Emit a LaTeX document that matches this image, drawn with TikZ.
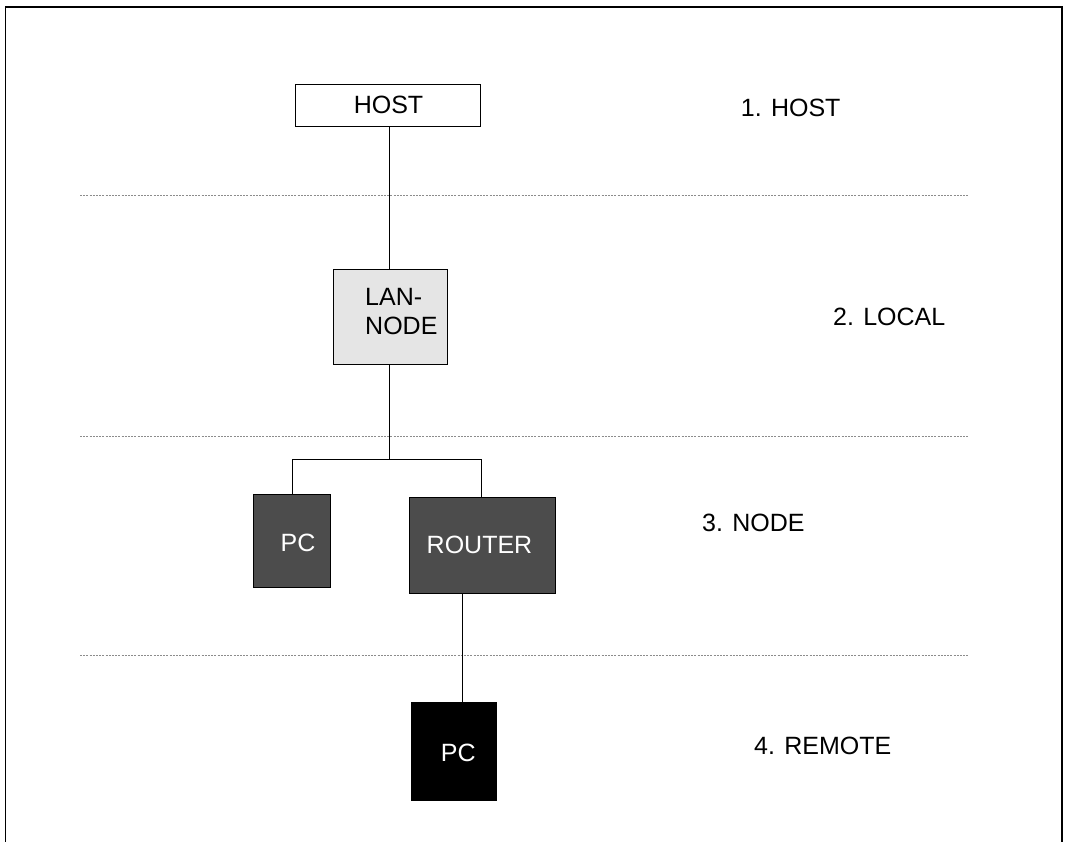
\documentclass[tikz,border=0pt]{standalone}
\usepackage{fontspec}
\setmainfont{Liberation Sans}
\begin{document}
\begin{tikzpicture}[x=1pt,y=-1pt]
\tikzstyle{every node}+=[inner sep=0pt, font=\fontsize{25}{28.7}\selectfont]
\tikzstyle{unit}=[draw=black, line width=1pt]
\tikzstyle{link}=[black, line width=1pt]
\tikzstyle{level}=[black!45, line width=0.7pt, dash pattern=on 2pt off 1.2pt]
\useasboundingbox (0,0) rectangle (1066,842);
\draw [black, line width=1.4pt] (5.5,842) -- (5.5,7) -- (1062,7) -- (1062,842);
% level separators
\draw [level] (80,195.7) -- (968,195.7);
\draw [level] (80,436.7) -- (968,436.7);
\draw [level] (80,655) -- (968,655);
% units
\node [unit, fill=white, minimum width=185pt, minimum height=42pt] (host) at (388.3,105.2) {};
\node (hostlbl) at (388.5,104.5) {HOST};
\node [unit, fill=black!10, minimum width=114pt, minimum height=95pt] (lan) at (390.5,317.5) {};
\node [anchor=west, align=left] (lanlbl) at (365,311.5) {LAN-\\NODE};
\node [unit, fill=black!70, minimum width=77pt, minimum height=93pt] (pc) at (291.8,540.7) {};
\node [white] (pclbl) at (298,542.5) {PC};
\node [unit, fill=black!70, minimum width=146pt, minimum height=96pt] (router) at (482.3,545.5) {};
\node [white] (routerlbl) at (479.5,544.7) {ROUTER};
\node [unit, fill=black, minimum width=85pt, minimum height=98pt] (remote) at (454.3,751.7) {};
\node [white] (remotelbl) at (458.3,752.8) {PC};
% connections
\coordinate (split) at (389.3,459.3);
\draw [link] ([xshift=1pt]host.south) -- ([xshift=1pt]host.south |- lan.north);
\draw [link] (lan.south -| split) -- (split);
\draw [link] (split) -| ([xshift=0.5pt]pc.north);
\draw [link] (split) -| ([xshift=-1pt]router.north);
\draw [link] ([xshift=-20pt]router.south) -- ([xshift=8pt]remote.north);
% level names
\node [anchor=west] (lvhost) at (740.7,107.8) {1. HOST};
\node [anchor=west] (lvlocal) at (833,317) {2. LOCAL};
\node [anchor=west] (lvnode) at (702,522.5) {3. NODE};
\node [anchor=west] (lvremote) at (754,745.7) {4. REMOTE};
\end{tikzpicture}
\end{document}
